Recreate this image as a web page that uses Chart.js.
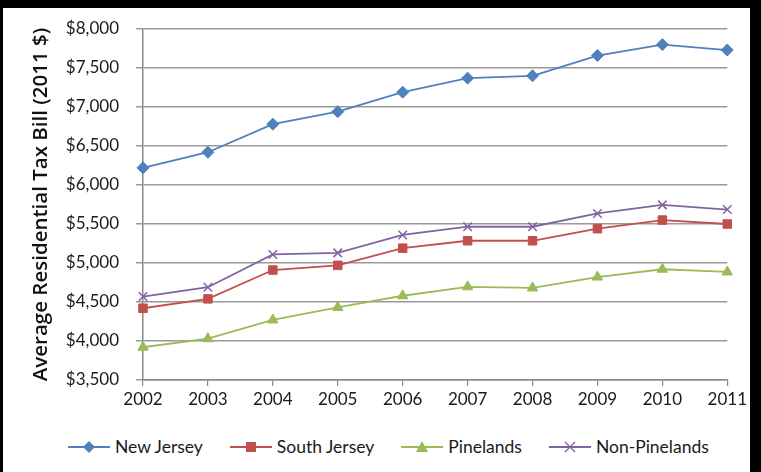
<!DOCTYPE html>
<html>
<head>
<meta charset="utf-8">
<script src="https://cdn.jsdelivr.net/npm/chart.js@4.4.1/dist/chart.umd.min.js"></script>
<style>
  html, body { margin: 0; padding: 0; background: #000; }
  body { width: 761px; height: 472px; position: relative; overflow: hidden; font-family: Lato, "Open Sans", sans-serif; }
  .frame { position: absolute; left: 3px; top: 8px; width: 747px; height: 464px; background: #fff; }
  .wrap { position: absolute; left: 0; top: 0; width: 747px; height: 412px; }
  .legend { position: absolute; left: 65px; top: 428px; display: flex; font-size: 17.5px; color: #1a1a1a; }
  .legend .item { display: flex; align-items: center; margin-right: 27px; }
  .legend svg { margin-right: 5px; }
</style>
</head>
<body>
<div class="frame">
  <div class="wrap"><canvas id="c"></canvas></div>
  <div class="legend" id="legend"></div>
</div>
<script>
  // values
  const years = ['2002', '2003', '2004', '2005', '2006', '2007', '2008', '2009', '2010', '2011'];
  const newJersey = [6220, 6420, 6780, 6940, 7190, 7370, 7400, 7660, 7800, 7730];
  const southJersey = [4420, 4540, 4910, 4970, 5190, 5285, 5285, 5440, 5550, 5500];
  const pinelands = [3920, 4030, 4270, 4430, 4580, 4695, 4680, 4820, 4920, 4885];
  const nonPinelands = [4570, 4690, 5110, 5130, 5360, 5465, 5465, 5635, 5745, 5685];
  const seriesNames = ['New Jersey', 'South Jersey', 'Pinelands', 'Non-Pinelands'];
  const yMin = 3500, yMax = 8000, yStep = 500;

  const colors = ['#4F81BD', '#C0504D', '#9BBB59', '#8064A2'];
  const shapes = ['rectRot', 'rect', 'triangle', 'crossRot'];
  const series = [newJersey, southJersey, pinelands, nonPinelands];

  const datasets = series.map((vals, i) => ({
    label: seriesNames[i],
    data: vals,
    borderColor: colors[i],
    backgroundColor: colors[i],
    pointBackgroundColor: colors[i],
    pointBorderColor: colors[i],
    pointStyle: shapes[i],
    pointRadius: 6,
    pointBorderWidth: shapes[i] === 'crossRot' ? 1.5 : 1,
    borderWidth: 1.8,
    tension: 0,
  }));

  const font = { family: 'Lato, "Open Sans", sans-serif', size: 17 };

  new Chart(document.getElementById('c'), {
    type: 'line',
    data: { labels: years, datasets },
    options: {
      responsive: true,
      maintainAspectRatio: false,
      animation: false,
      layout: { padding: { top: 21, right: 19, left: 0, bottom: 0 } },
      plugins: { legend: { display: false }, tooltip: { enabled: false } },
      scales: {
        x: {
          offset: false,
          grid: { display: true, drawOnChartArea: false, drawTicks: true, tickLength: 6, color: '#8a8a8a', lineWidth: 1.2 },
          border: { color: '#8a8a8a', width: 1.5 },
          ticks: { color: '#1a1a1a', font, padding: 3, maxRotation: 0 },
          afterFit(s) { s.height = 40; },
        },
        y: {
          min: yMin, max: yMax,
          grid: { color: '#9a9a9a', lineWidth: 1.5, tickLength: 7 },
          border: { color: '#8a8a8a', width: 1.5 },
          ticks: {
            stepSize: yStep, color: '#1a1a1a', font, padding: 17,
            callback: v => '$' + v.toLocaleString('en-US'),
          },
          title: {
            display: true,
            text: 'Average Residential Tax Bill (2011 $)',
            color: '#111',
            font: { family: '"Open Sans", Lato, sans-serif', size: 20.5, weight: '600' },
            padding: { top: 26, bottom: 0 },
          },
          afterFit(s) { s.width = 140; s.paddingTop = 0; s.paddingBottom = 0; },
        },
      },
    },
  });

  // legend: short line with the marker in the middle, like the original
  function markerSvg(shape, color) {
    let m = '';
    if (shape === 'rectRot') m = `<polygon points="21,1 27,7 21,13 15,7" fill="${color}"/>`;
    if (shape === 'rect') m = `<rect x="16" y="2" width="10" height="10" fill="${color}"/>`;
    if (shape === 'triangle') m = `<polygon points="21,1 27,12 15,12" fill="${color}"/>`;
    if (shape === 'crossRot') m = `<path d="M16,2 L26,12 M26,2 L16,12" stroke="${color}" stroke-width="1.4"/>`;
    return `<svg width="42" height="14"><line x1="0" y1="7" x2="42" y2="7" stroke="${color}" stroke-width="1.8"/>${m}</svg>`;
  }
  document.getElementById('legend').innerHTML = seriesNames.map((n, i) =>
    `<div class="item">${markerSvg(shapes[i], colors[i])}<span>${n}</span></div>`).join('');
</script>
</body>
</html>
